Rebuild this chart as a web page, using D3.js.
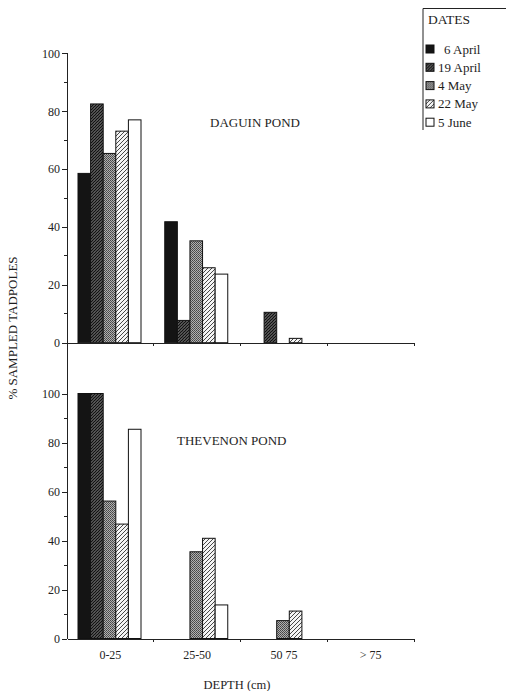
<!DOCTYPE html>
<meta charset="utf-8">
<style>
body { margin: 0; background: white; }
text { font-family: "Liberation Serif", "DejaVu Serif", serif; fill: #1e1e1e; }
.axis path, .axis line { stroke: #222; stroke-width: 1px; shape-rendering: crispEdges; }
.axis text { font-size: 12px; font-family: "Liberation Serif", serif; fill: #222; }
.bar { stroke: #111; stroke-width: 1px; }
</style>
<body>
<script src="https://d3js.org/d3.v7.min.js"></script>
<script>

// categories (depth classes) and sampling dates
var depths = ["0-25", "25-50", "50 75", "> 75"];
var dates = ["6 April", "19 April", "4 May", "22 May", "5 June"];

// % sampled tadpoles, one array per date, values per depth class
var daguin6Apr  = [58.5, 41.8, 0, 0];
var daguin19Apr = [82.5, 7.7, 10.5, 0];
var daguin4May  = [65.4, 35.2, 0, 0];
var daguin22May = [73.1, 25.9, 1.5, 0];
var daguin5Jun  = [77, 23.7, 0, 0];

var thevenon6Apr  = [100, 0, 0, 0];
var thevenon19Apr = [100, 0, 0, 0];
var thevenon4May  = [56.1, 35.4, 7.3, 0];
var thevenon22May = [46.7, 40.9, 11.2, 0];
var thevenon5Jun  = [85.4, 13.7, 0, 0];

var yTicks = [0, 20, 40, 60, 80, 100];
var yMinor = [10, 30, 50, 70, 90];

var panels = [
    {title: "DAGUIN POND", series: [daguin6Apr, daguin19Apr, daguin4May, daguin22May, daguin5Jun]},
    {title: "THEVENON POND", series: [thevenon6Apr, thevenon19Apr, thevenon4May, thevenon22May, thevenon5Jun]}
];

var fills = ["url(#p-black)", "url(#p-dense)", "url(#p-grey)", "url(#p-light)", "white"];

var svg = d3.select("body").append("svg")
        .attr("width", 507)
        .attr("height", 691);

// hatch patterns
var defs = svg.append("defs");
var pb = defs.append("pattern").attr("id", "p-black").attr("patternUnits", "userSpaceOnUse")
        .attr("width", 12).attr("height", 12);
pb.append("rect").attr("width", 12).attr("height", 12).attr("fill", "#141414");

var pd = defs.append("pattern").attr("id", "p-dense").attr("patternUnits", "userSpaceOnUse")
        .attr("width", 3).attr("height", 3);
pd.append("rect").attr("width", 3).attr("height", 3).attr("fill", "#dcdcdc");
pd.append("path").attr("d", "M-1,1 l2,-2 M0,3 l3,-3 M2,4 l2,-2")
        .attr("stroke", "#111").attr("stroke-width", 1.6);

var pg = defs.append("pattern").attr("id", "p-grey").attr("patternUnits", "userSpaceOnUse")
        .attr("width", 2).attr("height", 2);
pg.append("rect").attr("width", 2).attr("height", 2).attr("fill", "#b0b0b0");
pg.append("rect").attr("width", 1).attr("height", 1).attr("fill", "#444");
pg.append("rect").attr("x", 1).attr("y", 1).attr("width", 1).attr("height", 1).attr("fill", "#555");

var pl = defs.append("pattern").attr("id", "p-light").attr("patternUnits", "userSpaceOnUse")
        .attr("width", 4).attr("height", 4);
pl.append("rect").attr("width", 4).attr("height", 4).attr("fill", "#f4f4f4");
pl.append("path").attr("d", "M-1,1 l2,-2 M0,4 l4,-4 M3,5 l2,-2")
        .attr("stroke", "#333").attr("stroke-width", 0.9);

// shared x scales
var x0 = d3.scaleBand().domain(depths).range([67, 414]);
var x1 = d3.scaleBand().domain(dates).range([11, 74]);

var layout = [
    {zero: 342.7, top100: 53.3, axisTop: 53.3, axisBottom: 356, titleX: 210, titleY: 127},
    {zero: 638.5, top100: 393.5, axisTop: 356, axisBottom: 638.5, titleX: 177, titleY: 445}
];

panels.forEach(function(p, i) {
    var L = layout[i];
    var y = d3.scaleLinear().domain([0, 100]).range([L.zero, L.top100]);
    var g = svg.append("g");

    // bars
    p.series.forEach(function(vals, j) {
        g.selectAll(null)
            .data(vals.map(function(v, k) { return {depth: depths[k], v: v}; }).filter(function(d) { return d.v > 0; }))
            .enter().append("rect")
            .attr("class", "bar")
            .attr("x", function(d) { return x0(d.depth) + x1(dates[j]); })
            .attr("width", x1.bandwidth())
            .attr("y", function(d) { return y(d.v); })
            .attr("height", function(d) { return L.zero - y(d.v); })
            .attr("fill", fills[j]);
    });

    // y axis
    var ya = g.append("g").attr("class", "axis")
        .attr("transform", "translate(67,0)")
        .call(d3.axisLeft(y).tickValues(yTicks).tickSize(5).tickPadding(2).tickSizeOuter(0));
    ya.select(".domain").remove();
    ya.append("line").attr("x1", 0).attr("x2", 0).attr("y1", L.axisTop).attr("y2", L.axisBottom)
        .attr("stroke", "#222");
    ya.selectAll(".minor").data(yMinor).enter().append("line")
        .attr("x1", -3).attr("x2", 0)
        .attr("y1", function(d) { return y(d); }).attr("y2", function(d) { return y(d); })
        .attr("stroke", "#222");

    // x axis
    var xa = g.append("g").attr("class", "axis")
        .attr("transform", "translate(0," + L.zero + ")")
        .call(d3.axisBottom(x0).tickSize(0).tickPadding(12).tickSizeOuter(0));
    xa.selectAll("text").attr("opacity", i == 1 ? 1 : 0);
    xa.selectAll(".bound").data(depths).enter().append("line")
        .attr("x1", function(d) { return x0(d) + x0.bandwidth(); })
        .attr("x2", function(d) { return x0(d) + x0.bandwidth(); })
        .attr("y1", 0).attr("y2", 3)
        .attr("stroke", "#222");

    g.append("text")
        .attr("x", L.titleX).attr("y", L.titleY)
        .style("font-size", "13px")
        .text(p.title);
});

// axis titles
svg.append("text")
    .attr("transform", "translate(17,328) rotate(-90)")
    .attr("text-anchor", "middle")
    .style("font-size", "13px")
    .text("% SAMPLED TADPOLES");

svg.append("text")
    .attr("x", 237).attr("y", 689)
    .attr("text-anchor", "middle")
    .style("font-size", "12.5px")
    .text("DEPTH (cm)");

// legend
var lg = svg.append("g");
lg.append("path").attr("d", "M423,130 V8.5 H506")
    .attr("fill", "none").attr("stroke", "#222");
lg.append("text").attr("x", 428).attr("y", 24).style("font-size", "13.5px").text("DATES");
var item = lg.selectAll(".item").data(dates).enter().append("g")
    .attr("transform", function(d, i) { return "translate(426," + (45 + i * 18.3) + ")"; });
item.append("rect").attr("width", 8).attr("height", 8)
    .attr("fill", function(d, i) { return fills[i]; })
    .attr("stroke", "#111");
item.append("text").attr("x", function(d, i) { return i == 0 ? 18 : 12; }).attr("y", 8.5)
    .style("font-size", "13px")
    .text(function(d) { return d; });

</script>
</body>
